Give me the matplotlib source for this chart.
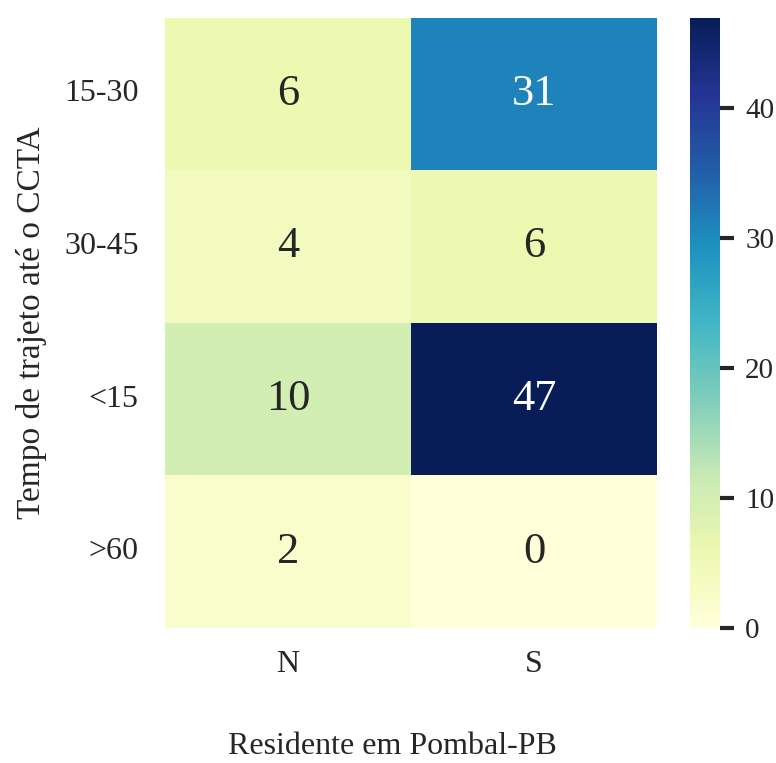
import matplotlib
matplotlib.use("Agg")
import matplotlib.pyplot as plt
import numpy as np
import pandas as pd
import seaborn as sns

# Cross-tabulation: travel time to CCTA vs. living in Pombal-PB
tempo = ["15-30", "30-45", "<15", ">60"]
residente = ["N", "S"]
contagem_n = [6, 4, 10, 2]
contagem_s = [31, 6, 47, 0]

tabela = pd.DataFrame({"N": contagem_n, "S": contagem_s}, index=tempo)

sns.set_theme(style="white")
plt.rcParams["font.family"] = ["Liberation Serif", "DejaVu Serif"]

fig = plt.figure(figsize=(7.76, 7.63), dpi=100)
ax = fig.add_axes([0.2126, 0.177, 0.634, 0.800])
cax = fig.add_axes([0.889, 0.177, 0.039, 0.800])

sns.heatmap(tabela, annot=True, fmt="d", cmap="YlGnBu", ax=ax, cbar_ax=cax,
            annot_kws={"fontsize": 32})

ax.set_xlabel("Residente em Pombal-PB", fontsize=23, color="#262626")
ax.set_ylabel("Tempo de trajeto até o CCTA", fontsize=24, labelpad=12, color="#262626")
ax.xaxis.set_label_coords(0.463, -0.17)
ax.tick_params(axis="both", labelsize=23, length=0, colors="#262626")
ax.tick_params(axis="y", pad=19)
ax.tick_params(axis="x", pad=16)
plt.setp(ax.get_yticklabels(), rotation=0)

cax.tick_params(labelsize=21, length=10, width=3, colors="#262626", pad=8)
cax.set_yticks([0, 10, 20, 30, 40])

fig.savefig("out.png", dpi=100)
